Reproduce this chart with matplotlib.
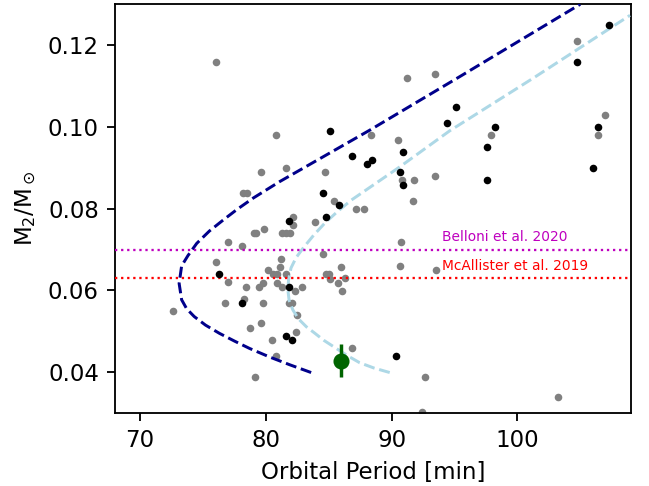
import matplotlib
matplotlib.use('Agg')
import matplotlib.pyplot as plt

# literature CVs (grey) and period bouncers / other sample (black)
grey_P = [76.05, 80.78, 79.58, 81.62, 78.17, 78.52, 91.26, 93.43, 88.34, 90.54,
          84.70, 93.43, 90.86, 91.82, 85.45, 91.68, 87.13, 87.78, 104.71, 97.87,
          106.94, 106.43, 82.15, 82.15, 83.88, 79.02, 79.24, 79.87, 81.30, 81.62,
          81.89, 76.97, 78.09, 76.00, 84.54, 81.17, 81.10, 80.14, 80.56, 80.88,
          81.62, 86.00, 84.75, 85.02, 85.07, 86.27, 85.76, 86.03, 76.97, 78.38,
          79.44, 79.76, 80.88, 81.30, 82.29, 82.90, 78.22, 76.77, 79.76, 81.83,
          82.10, 82.50, 72.63, 78.70, 79.58, 82.42, 80.45, 86.88, 80.77, 79.10,
          92.66, 92.45, 103.2, 90.78, 90.70, 93.51]
grey_M = [0.1159, 0.0979, 0.0890, 0.0899, 0.0839, 0.0839, 0.1119, 0.1130, 0.0980, 0.0969,
          0.0890, 0.0880, 0.0870, 0.0869, 0.0819, 0.0819, 0.0800, 0.0800, 0.1210, 0.0980,
          0.1030, 0.0980, 0.0780, 0.0760, 0.0768, 0.0740, 0.0740, 0.0749, 0.0740, 0.0740,
          0.0740, 0.0719, 0.0709, 0.0669, 0.0689, 0.0678, 0.0658, 0.0650, 0.0639, 0.0639,
          0.0639, 0.0658, 0.0639, 0.0639, 0.0628, 0.0630, 0.0618, 0.0599, 0.0620, 0.0609,
          0.0609, 0.0619, 0.0619, 0.0609, 0.0599, 0.0609, 0.0578, 0.0568, 0.0568, 0.0568,
          0.0568, 0.0540, 0.0549, 0.0509, 0.0520, 0.0499, 0.0479, 0.0460, 0.0440, 0.0389,
          0.0389, 0.0303, 0.0338, 0.0719, 0.0660, 0.0650]

black_P = [85.07, 95.10, 94.39, 90.88, 86.81, 88.46, 88.04, 90.67, 90.88, 84.52,
           85.79, 84.81, 81.83, 107.28, 104.71, 98.26, 97.57, 97.57, 106.43, 106.04,
           76.26, 78.12, 81.83, 81.62, 82.10, 90.38]
black_M = [0.0990, 0.1049, 0.1009, 0.0939, 0.0929, 0.0919, 0.0909, 0.0890, 0.0859, 0.0839,
           0.0809, 0.0780, 0.0770, 0.1250, 0.1159, 0.0999, 0.0950, 0.0869, 0.0999, 0.0899,
           0.0639, 0.0568, 0.0609, 0.0489, 0.0479, 0.0440]

# evolutionary tracks
track1_P = [83.6, 81.9, 80.3, 78.7, 77.5, 76.3, 75.2, 74.3, 73.7, 73.3, 73.1, 73.3,
            73.8, 74.5, 75.5, 76.6, 77.7, 79.0, 81.09, 88.26, 95.42, 105.0]
track1_M = [0.0399, 0.0418, 0.0437, 0.0458, 0.0476, 0.0495, 0.0515, 0.0536, 0.0555, 0.0577, 0.0617, 0.0660,
            0.0685, 0.0715, 0.0745, 0.0772, 0.0798, 0.0826, 0.0866, 0.0992, 0.1123, 0.1300]
track2_P = [89.85, 88.6, 87.46, 86.5, 85.6, 84.6, 83.9, 83.22, 82.6, 82.15, 81.85, 81.75,
            81.8, 82.0, 82.4, 83.0, 83.8, 84.7, 85.7, 86.8, 90.64, 94.6, 101.3, 108.96]
track2_M = [0.0399, 0.0410, 0.0423, 0.0440, 0.0458, 0.0478, 0.0495, 0.0511, 0.0530, 0.0552, 0.0575, 0.0601,
            0.0625, 0.0655, 0.0680, 0.0705, 0.0735, 0.0765, 0.0793, 0.0821, 0.0902, 0.0990, 0.1120, 0.1273]

# this object
obj_P = 86.0
obj_M = 0.0428
obj_Merr = 0.004

belloni = 0.070
mcallister = 0.063

fig = plt.figure(figsize=(649/165, 486/165), dpi=165)
ax = fig.add_subplot(111)
fig.subplots_adjust(left=0.1772, right=0.9715, bottom=0.1502, top=0.9912)

ax.scatter(grey_P, grey_M, s=11, c='grey', linewidths=0, zorder=2)
ax.plot(track1_P, track1_M, '--', color='darkblue', lw=1.3, zorder=3)
ax.plot(track2_P, track2_M, '--', color='lightblue', lw=1.3, zorder=3)
ax.axhline(belloni, ls=':', color='m', lw=1, zorder=3)
ax.axhline(mcallister, ls=':', color='r', lw=1, zorder=3)
ax.text(94.0, 0.0731, 'Belloni et al. 2020', color='m', fontsize=6, va='center')
ax.text(94.0, 0.0660, 'McAllister et al. 2019', color='r', fontsize=6, va='center')
ax.scatter(black_P, black_M, s=11, c='k', linewidths=0, zorder=4)
ax.errorbar(obj_P, obj_M, yerr=obj_Merr, fmt='o', color='darkgreen', ms=6, elinewidth=1.5, zorder=5)

ax.set_xlim(68, 109)
ax.set_ylim(0.03, 0.13)
ax.set_xticks([70, 80, 90, 100])
ax.set_xlabel('Orbital Period [min]')
ax.set_ylabel(r'M$_2$/M$_\odot$')

plt.savefig('out.png', dpi=165)
